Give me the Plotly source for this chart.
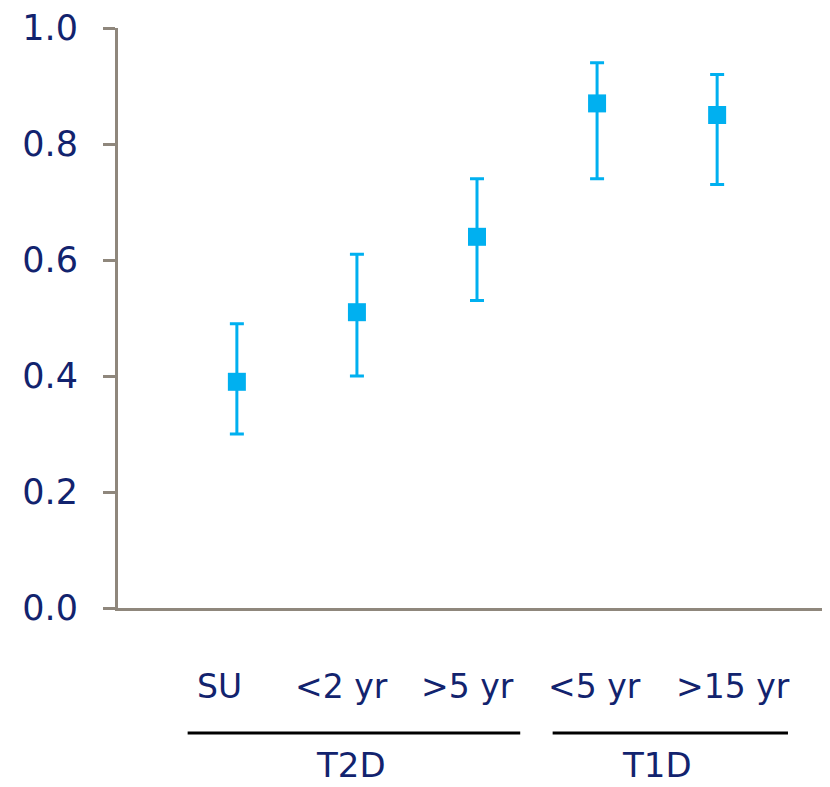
import plotly.graph_objects as go

categories = ["SU", "<2 yr", ">5 yr", "<5 yr", ">15 yr"]
values = [0.39, 0.51, 0.64, 0.87, 0.85]
upper = [0.49, 0.61, 0.74, 0.94, 0.92]
lower = [0.30, 0.40, 0.53, 0.74, 0.73]
groups = ["T2D", "T1D"]
group_members = [[0, 1, 2], [3, 4]]
y_ticks = [0.0, 0.2, 0.4, 0.6, 0.8, 1.0]
y_tick_labels = ["0.0", "0.2", "0.4", "0.6", "0.8", "1.0"]

xs = list(range(len(categories)))
err_plus = [u - v for u, v in zip(upper, values)]
err_minus = [v - l for v, l in zip(values, lower)]

NAVY = "#12236e"
AXIS = "#8f877c"
BLUE = "#00B0F0"
FONT = "DejaVu Sans"

fig = go.Figure()
fig.add_trace(go.Scatter(
    x=xs, y=values, mode="markers",
    marker=dict(symbol="square", size=18, color=BLUE, line=dict(width=0)),
    error_y=dict(type="data", symmetric=False, array=err_plus, arrayminus=err_minus,
                 color=BLUE, thickness=3, width=7),
    showlegend=False, cliponaxis=False,
))

# category labels
label_shift = [-17, -15, -10, -3, 16]
for i, c in enumerate(categories):
    fig.add_annotation(x=i, y=-0.136, xref="x", yref="paper", text=c, showarrow=False,
                       xshift=label_shift[i], font=dict(family=FONT, size=33, color=NAVY),
                       yanchor="middle")

# group lines and labels
pad_left = [0.41, 0.37]
pad_right = [0.36, 0.59]
group_shift = [-3, -13]
for g, members, pl, pr, gs in zip(groups, group_members, pad_left, pad_right, group_shift):
    x0 = min(members) - pl
    x1 = max(members) + pr
    fig.add_shape(type="line", xref="x", yref="paper", x0=x0, x1=x1, y0=-0.2155, y1=-0.2155,
                  line=dict(color="black", width=3))
    fig.add_annotation(x=(x0 + x1) / 2, y=-0.270, xref="x", yref="paper", text=g,
                       showarrow=False, xshift=gs,
                       font=dict(family=FONT, size=34, color=NAVY), yanchor="middle")

fig.update_xaxes(range=[-0.99, 4.94], showline=True, linecolor=AXIS, linewidth=3,
                 showticklabels=False, ticks="", showgrid=False, zeroline=False)
fig.update_yaxes(range=[0, 1], tickvals=y_ticks, ticktext=y_tick_labels, showline=True,
                 linecolor=AXIS, linewidth=3, ticks="outside", ticklen=12, tickwidth=3,
                 tickcolor=AXIS, showgrid=False, zeroline=False, ticklabelstandoff=18,
                 tickfont=dict(family=FONT, size=35, color=NAVY))

# the page body has an 8px margin, so the figure is sized to fit the 830x787 window
fig.update_layout(width=822, height=779, margin=dict(l=110, r=0, t=20, b=179),
                  plot_bgcolor="white", paper_bgcolor="white")

fig.write_html("out.html")
